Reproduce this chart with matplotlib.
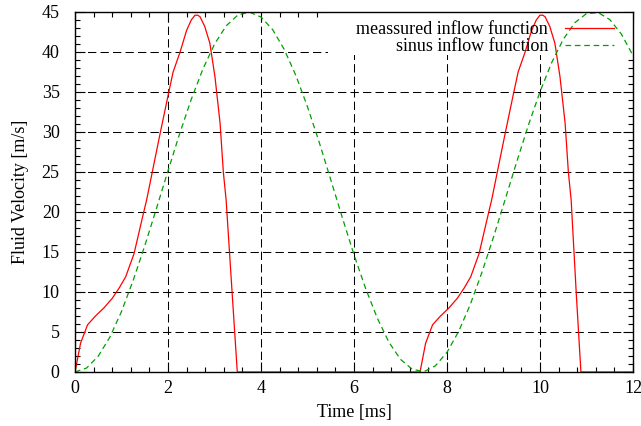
import matplotlib
matplotlib.use("Agg")
import matplotlib.pyplot as plt
from matplotlib.patches import Rectangle
from matplotlib.ticker import MultipleLocator

plt.rcParams["font.family"] = ["Liberation Serif", "DejaVu Serif"]
plt.rcParams["font.size"] = 13

t_measured = [0.00, 0.12, 0.27, 0.44, 0.62, 0.80, 0.95, 1.09, 1.27, 1.47, 1.54,
              1.83, 2.01, 2.11, 2.26, 2.40, 2.50, 2.58, 2.64, 2.69, 2.79, 2.90,
              3.01, 3.12, 3.19, 3.25, 3.38, 3.49,
              7.42, 7.54, 7.69, 7.86, 8.04, 8.22, 8.37, 8.51, 8.69, 8.89, 8.96,
              9.25, 9.43, 9.53, 9.68, 9.82, 9.92, 10.00, 10.06, 10.11, 10.21,
              10.32, 10.43, 10.54, 10.61, 10.67, 10.78, 10.88, 12.00]
v_measured = [0.0, 3.6, 5.9, 7.0, 8.0, 9.2, 10.5, 11.9, 14.8, 19.8, 21.5,
              29.8, 34.8, 37.5, 40.0, 42.7, 44.0, 44.6, 44.6, 44.4, 43.2, 41.1,
              36.9, 31.1, 25.0, 21.5, 9.8, 0.0,
              0.0, 3.6, 5.9, 7.0, 8.0, 9.2, 10.5, 11.9, 14.8, 19.8, 21.5,
              29.8, 34.8, 37.5, 40.0, 42.7, 44.0, 44.6, 44.6, 44.4, 43.2,
              41.1, 36.9, 31.1, 25.0, 21.5, 9.8, 0.0, 0.0]

# sinus inflow function, sampled every 0.25 ms
t_sinus = [i * 0.25 for i in range(49)]
v_sinus = [0.00, 0.50, 1.98, 4.36, 7.56, 11.44, 15.77, 20.41, 25.15, 29.78,
           34.08, 37.86, 40.98, 43.26, 44.61, 44.99, 44.37, 42.80, 40.32, 37.06,
           33.15, 28.75, 24.04, 19.28, 14.65, 10.44, 6.75, 3.73, 1.58, 0.36,
           0.03, 0.77, 2.47, 5.06, 8.43, 12.43, 16.87, 21.55, 26.28, 30.85,
           35.03, 38.66, 41.58, 43.67, 44.80, 44.93, 44.06, 42.24, 39.56]

fig = plt.figure(figsize=(6.41, 4.26), dpi=100)
ax = fig.add_axes([75 / 641, 54 / 426, 558 / 641, 360 / 426])

ax.set_xlim(0, 12)
ax.set_ylim(0, 45)
ax.xaxis.set_major_locator(MultipleLocator(2))
ax.xaxis.set_minor_locator(MultipleLocator(0.4))
ax.yaxis.set_major_locator(MultipleLocator(5))
ax.yaxis.set_minor_locator(MultipleLocator(1))
ax.tick_params(which="both", direction="in", top=True, right=True, width=0.8,
               labelsize=13)
ax.tick_params(which="major", length=7)
ax.tick_params(which="minor", length=3.6)
ax.tick_params(axis="x", pad=6)
ax.tick_params(axis="y", pad=11)

ax.grid(True, which="major", color="black", linestyle=(0, (8, 4)),
        linewidth=0.75, zorder=0)
ax.set_axisbelow(True)

# gnuplot clears the grid behind the key
ax.add_patch(Rectangle((5.44, 39.6), 6.56, 5.4, facecolor="white",
                       edgecolor="none", zorder=1))

ax.plot(t_measured, v_measured, color="#ff0000", linewidth=0.9,
        label="meassured inflow function", zorder=3)
ax.plot(t_sinus, v_sinus, color="#00a000", linewidth=0.9,
        linestyle=(0, (4.5, 3)), label="sinus inflow function", zorder=3)

for s in ax.spines.values():
    s.set_linewidth(1.0)
    s.set_zorder(4)

leg = ax.legend(loc="upper right", bbox_to_anchor=((614 - 75) / 558, (372 - 21) / 360),
                frameon=False, markerfirst=False, borderpad=0, borderaxespad=0,
                handlelength=2.7, handletextpad=0.95, labelspacing=0.0,
                fontsize=13)
leg.set_zorder(5)

ax.set_xlabel("Time [ms]", fontsize=13, labelpad=5)
ax.set_ylabel("Fluid Velocity [m/s]", fontsize=13, labelpad=9)

fig.savefig("out.png", dpi=100)
